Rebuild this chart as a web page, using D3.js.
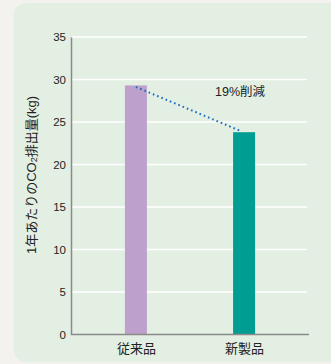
<!DOCTYPE html>
<html>
<head>
<meta charset="utf-8">
<script src="https://cdn.jsdelivr.net/npm/d3@7"></script>
<style>
  html, body { margin: 0; padding: 0; background: #f4f2ee; }
  svg { display: block; }
  text { font-family: "Liberation Sans", "Noto Sans CJK JP", sans-serif; fill: #222; }
</style>
</head>
<body>
<svg id="chart" width="331" height="364"></svg>
<script>
// Annual CO2 emissions per unit: conventional vs. new product
const categories = ["従来品", "新製品"];
const values = [29.3, 23.8];
const barColors = ["#bda0cb", "#009e92"];
const yTicks = [0, 5, 10, 15, 20, 25, 30, 35];
const reductionLabel = "19%削減";

const svg = d3.select("#chart");

// rounded panel
svg.append("rect")
  .attr("x", 13.5).attr("y", 3)
  .attr("width", 330).attr("height", 359)
  .attr("rx", 13)
  .attr("fill", "#e2efe2");

const plotLeft = 71, plotRight = 309, plotTop = 37, plotBottom = 334.5;

const y = d3.scaleLinear().domain([0, 35]).range([plotBottom, plotTop]);
const x = d3.scalePoint().domain(categories).range([plotLeft, plotRight]).padding(0.6);
const barW = 22;

// white gridlines
svg.append("g")
  .selectAll("line")
  .data(yTicks.filter(d => d > 0))
  .join("line")
  .attr("x1", plotLeft + 1).attr("x2", plotRight - 2)
  .attr("y1", d => y(d)).attr("y2", d => y(d))
  .attr("stroke", "#ffffff").attr("stroke-width", 1.5);

// y axis
const yAxis = svg.append("g")
  .attr("transform", `translate(${plotLeft},0)`)
  .call(d3.axisLeft(y).tickValues(yTicks).tickSize(0).tickPadding(5));
yAxis.select(".domain").attr("stroke", "#8a8a8a").attr("stroke-width", 1.5);
yAxis.selectAll("text").style("font-size", "11.5px").attr("fill", "#222");

// bars
svg.append("g")
  .selectAll("rect")
  .data(categories)
  .join("rect")
  .attr("x", d => x(d) - barW / 2)
  .attr("width", barW)
  .attr("y", (d, i) => y(values[i]))
  .attr("height", (d, i) => y(0) - y(values[i]))
  .attr("fill", (d, i) => barColors[i]);

// x axis
const xAxis = svg.append("g")
  .attr("transform", `translate(0,${plotBottom})`)
  .call(d3.axisBottom(x).tickSize(0).tickPadding(9));
xAxis.select(".domain")
  .attr("d", `M${plotLeft},0H${plotRight}`)
  .attr("stroke", "#8a8a8a").attr("stroke-width", 1.5);
xAxis.selectAll("text").style("font-size", "13px").attr("fill", "#222");

// dotted reduction line
svg.append("line")
  .attr("x1", x(categories[0])).attr("y1", y(values[0]) + 1.5)
  .attr("x2", x(categories[1]) - 3).attr("y2", y(values[1]) - 1)
  .attr("stroke", "#1a6cc0").attr("stroke-width", 2)
  .attr("stroke-dasharray", "1.6,3");

svg.append("text")
  .attr("x", 240).attr("y", 95.5)
  .attr("text-anchor", "middle")
  .style("font-size", "12.5px")
  .text(reductionLabel);

// y axis title
const yt = svg.append("text")
  .attr("transform", "translate(36,175) rotate(-90)")
  .attr("text-anchor", "middle")
  .style("font-size", "13px");
yt.append("tspan").text("1年あたりのCO");
yt.append("tspan").attr("dy", 1).style("font-size", "9px").text("2");
yt.append("tspan").attr("dy", -1).text("排出量(kg)");
</script>
</body>
</html>
